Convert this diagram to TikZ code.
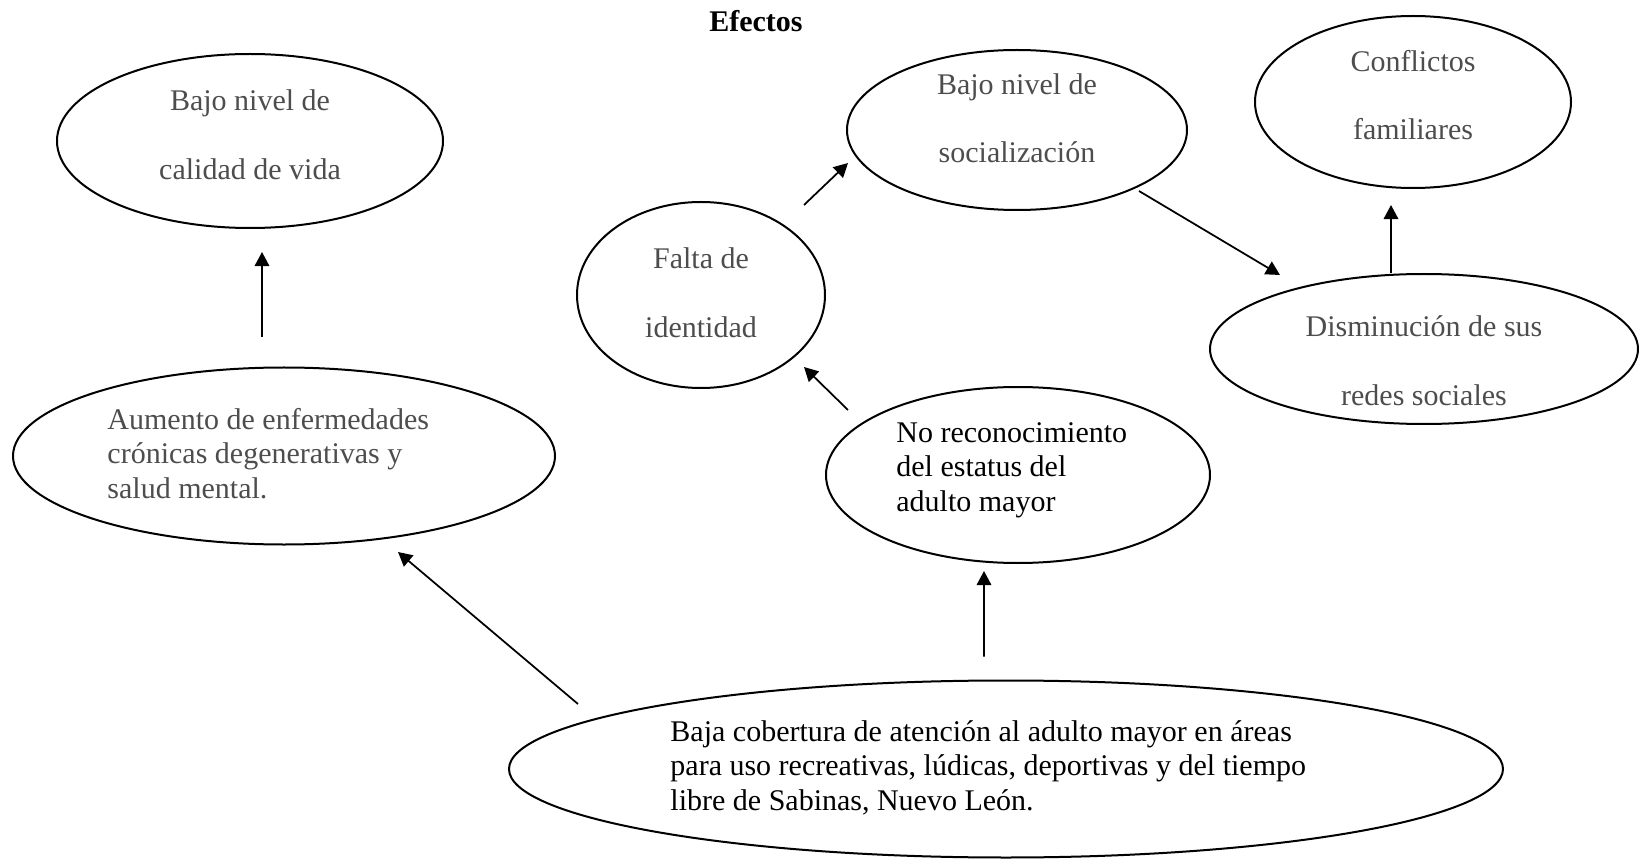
\documentclass[tikz,border=0pt]{standalone}
\usepackage{fontspec}
\setmainfont{Liberation Serif}
\usepackage{xcolor}
\usetikzlibrary{arrows.meta, shapes.geometric}
\definecolor{textgray}{HTML}{4D4D4D}

\begin{document}
\begin{tikzpicture}[x=0.4pt, y=-0.4pt,
    oval/.style={draw, ellipse, line width=0.8pt, inner sep=0pt},
    txt/.style={font=\fontsize{12}{13.8}\selectfont, align=left},
    wide/.style={font=\fontsize{12}{27.4}\selectfont, text=textgray, align=center},
    arr/.style={-{Triangle[length=5.6pt, width=5.8pt]}, line width=0.7pt}]
  \useasboundingbox (0,0) rectangle (1642,859);
  % titulo
  \node[font=\fontsize{12}{13.8}\selectfont\bfseries] (titulo) at (756,21) {Efectos};
  % efectos
  \node[oval, minimum width=154.4pt, minimum height=69.6pt, label={[wide, yshift=2.5pt]center:{Bajo nivel de\\calidad de vida}}] (calidad) at (250,141) {};
  \node[oval, minimum width=216.8pt, minimum height=70.8pt, label={[txt, text=textgray, xshift=-6.3pt, yshift=1pt]center:{Aumento de enfermedades\\crónicas degenerativas y\\salud mental.}}] (aumento) at (284,456) {};
  \node[oval, minimum width=99.2pt, minimum height=74.4pt, label={[wide, yshift=1pt]center:{Falta de\\identidad}}] (falta) at (701,295) {};
  \node[oval, minimum width=136pt, minimum height=64pt, label={[wide, yshift=4.8pt]center:{Bajo nivel de\\socialización}}] (social) at (1017,130) {};
  \node[oval, minimum width=126.4pt, minimum height=68.8pt, label={[wide, yshift=2.7pt]center:{Conflictos\\familiares}}] (conflictos) at (1413,102) {};
  \node[oval, minimum width=171.2pt, minimum height=60pt, label={[wide, yshift=-4.6pt]center:{Disminución de sus\\redes sociales}}] (redes) at (1424,349) {};
  \node[oval, minimum width=153.6pt, minimum height=70.4pt, label={[txt, xshift=-2.5pt, yshift=2pt]center:{No reconocimiento\\del estatus del\\adulto mayor}}] (estatus) at (1018,475) {};
  % problema central
  \node[oval, minimum width=397.6pt, minimum height=70.8pt, label={[txt, xshift=-7.1pt, yshift=0.5pt]center:{Baja cobertura de atención al adulto mayor en áreas\\para uso recreativas, lúdicas, deportivas y del tiempo\\libre de Sabinas, Nuevo León.}}] (cobertura) at (1006,769) {};
  % flechas
  \draw[arr] ([xshift=-8.8pt, yshift=11.8pt]aumento.north) -- ([xshift=4.8pt, yshift=-9.2pt]calidad.south);
  \draw[arr] ([xshift=-171.2pt, yshift=26pt]cobertura.center) -- ([xshift=45.6pt, yshift=-38.4pt]aumento.center);
  \draw[arr] ([xshift=-8.8pt, yshift=9.2pt]cobertura.north) -- ([xshift=-13.6pt, yshift=-2.8pt]estatus.south);
  \draw[arr] ([xshift=-68pt, yshift=26pt]estatus.center) -- ([xshift=41.2pt, yshift=-28.8pt]falta.center);
  \draw[arr] ([xshift=41.2pt, yshift=36pt]falta.center) -- ([xshift=-67.6pt, yshift=-13.2pt]social.center);
  \draw[arr] ([xshift=48.8pt, yshift=-24.4pt]social.center) -- ([xshift=-57.6pt, yshift=29.6pt]redes.center);
  \draw[arr] ([xshift=-13.2pt]redes.north) -- ([xshift=-8.8pt, yshift=-6.4pt]conflictos.south);
\end{tikzpicture}
\end{document}
